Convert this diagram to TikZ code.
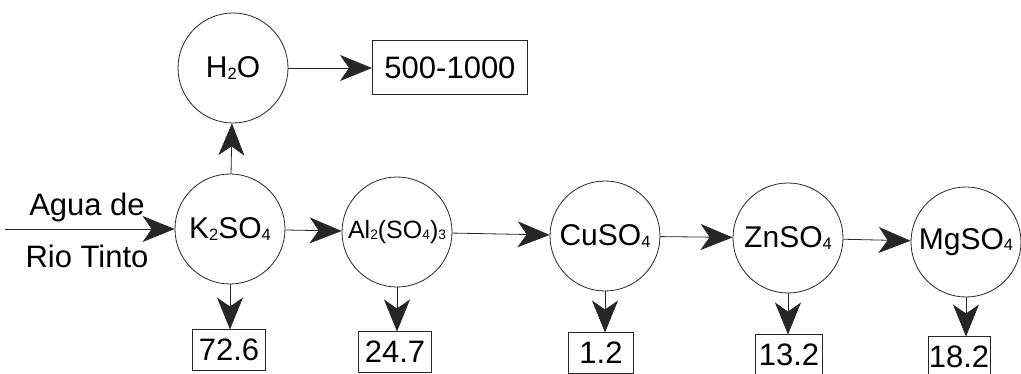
\documentclass[tikz,border=0pt]{standalone}
\usepackage{fontspec}
\usepackage{graphicx}
\setmainfont{Liberation Sans}
\usetikzlibrary{arrows.meta}
\newcommand{\sbs}[1]{\raisebox{-0.04em}{\scalebox{0.55}{#1}}}
\begin{document}
\begin{tikzpicture}[x=1pt,y=-1pt,
  proc/.style={draw=black!85,line width=0.8pt,circle,minimum size=110pt,inner sep=0pt,font=\fontsize{30}{30}\selectfont},
  valbox/.style={draw=black!85,line width=1pt,rectangle,minimum height=40pt,inner sep=0pt,font=\fontsize{31}{31}\selectfont},
  lbl/.style={inner sep=0pt,font=\fontsize{31}{31}\selectfont},
  flow/.style={line width=0.8pt,draw=black!85,-{Stealth[length=32pt,width=26pt,inset=9pt,fill=black!85]}}
]
\useasboundingbox (0,0) rectangle (1021,374);
\node[proc] (h2o) at (233,68) {H\sbs{2}O};
\node[valbox,minimum width=155pt,minimum height=54pt] (w) at (450,68) {500-1000};
\node[proc] (k) at (230,229) {K\sbs{2}SO\sbs{4}};
\node[proc] (al) at (397,232) {\fontsize{25}{25}\selectfont Al\sbs{2}(SO\sbs{4})\sbs{3}};
\node[proc] (cu) at (605,236) {CuSO\sbs{4}};
\node[proc] (zn) at (788,238) {ZnSO\sbs{4}};
\node[proc] (mg) at (966,242) {MgSO\sbs{4}};
\node[valbox,minimum width=73pt] (b1) at (229,350) {72.6};
\node[valbox,minimum width=73pt] (b2) at (395,352) {24.7};
\node[valbox,minimum width=65pt] (b3) at (601,353) {1.2};
\node[valbox,minimum width=67pt] (b4) at (789,355) {13.2};
\node[valbox,minimum width=62pt] (b5) at (959,357) {18.2};
\node[lbl] (ag) at (87,207) {Agua de};
\node[lbl] (rt) at (87,256) {Rio Tinto};
\coordinate (in) at (5,229);
\draw[flow] (in) -- (k);
\draw[flow] (k) -- (al);
\draw[flow] (al) -- (cu);
\draw[flow] (cu) -- (zn);
\draw[flow] (zn) -- (mg);
\draw[flow] (k) -- (h2o);
\draw[flow] (h2o) -- (w);
\draw[flow] (k.south) -- (k.south |- b1.north);
\draw[flow] (al.south) -- (al.south |- b2.north);
\draw[flow] (cu.south) -- (cu.south |- b3.north);
\draw[flow] (zn.south) -- (zn.south |- b4.north);
\draw[flow] (mg.south) -- (mg.south |- b5.north);
\end{tikzpicture}
\end{document}
